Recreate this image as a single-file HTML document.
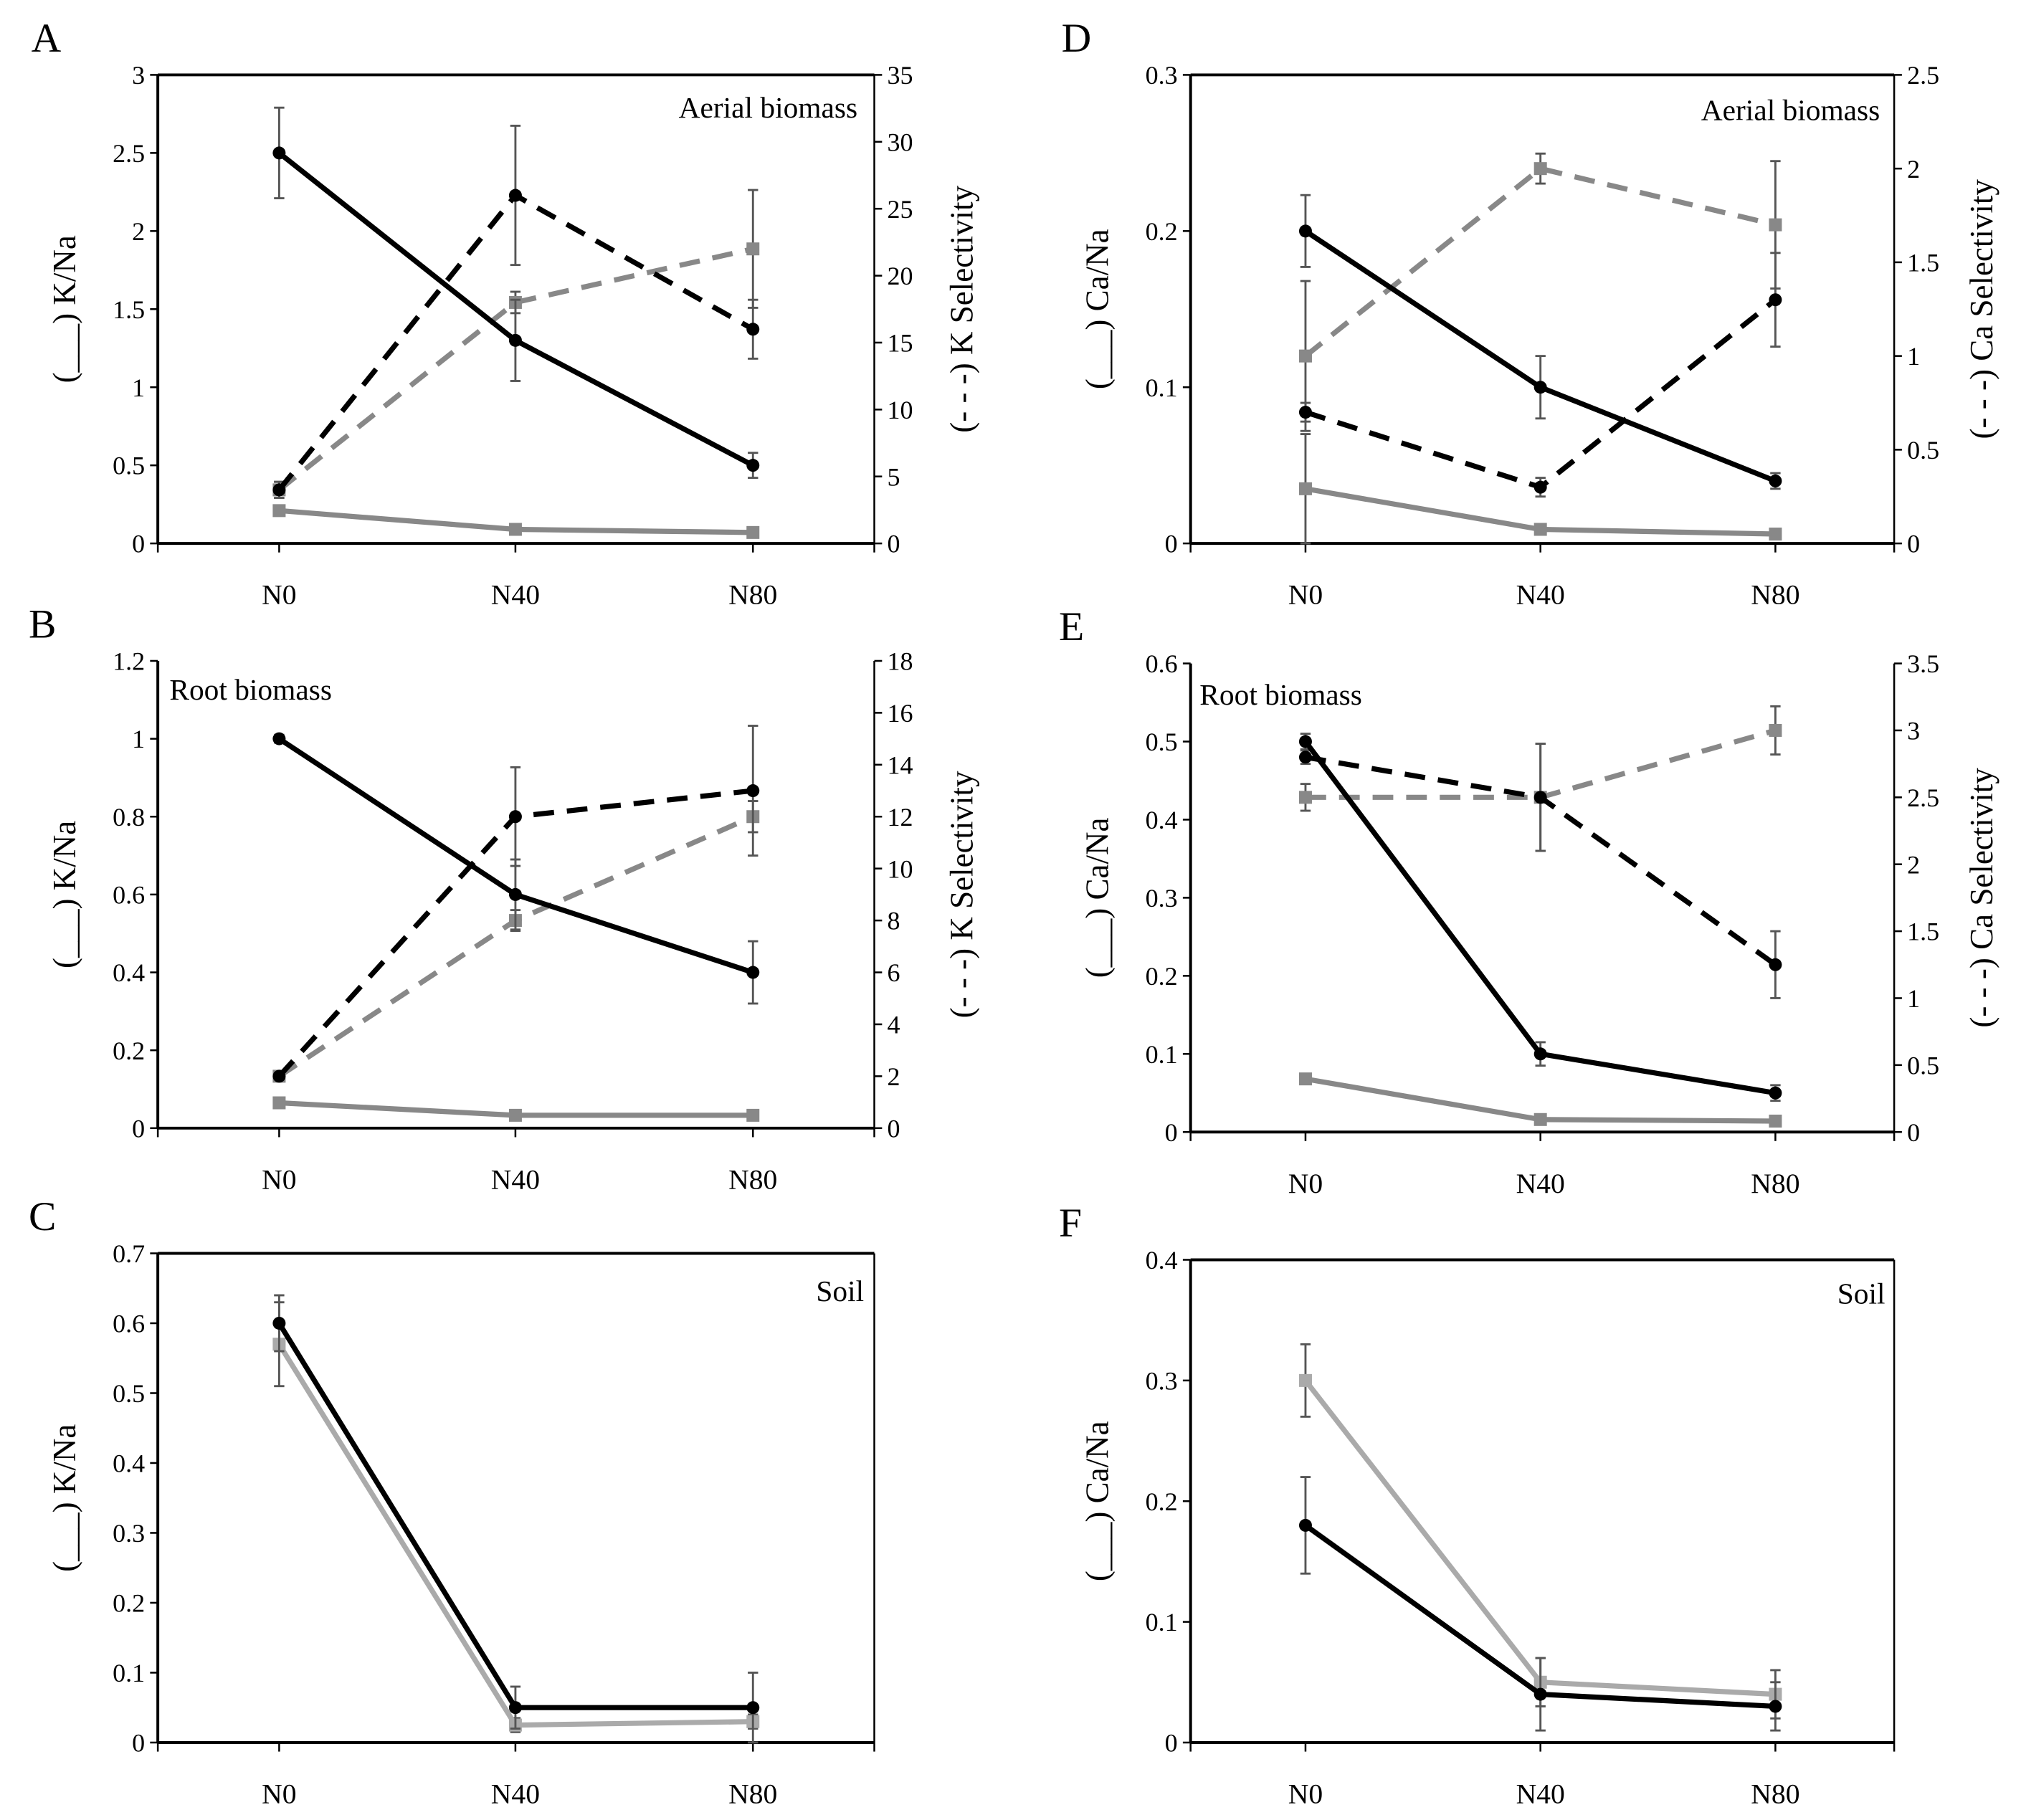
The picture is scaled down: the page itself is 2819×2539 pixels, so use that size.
<!DOCTYPE html>
<html><head><meta charset="utf-8"><style>
html,body{margin:0;padding:0;background:#fff}
svg{display:block}
text{font-family:"Liberation Serif",serif;fill:#000}
</style></head><body>
<svg id="fig" width="2819" height="2539" viewBox="0 0 1565 1410" xmlns="http://www.w3.org/2000/svg"></svg>
<script>
const categories = ["N0","N40","N80"];
// Panel A
const aKNaSel = [2.5,1.3,0.5], aKNaSelErr=[0.29,0.26,0.08];
const aKNaAlt = [0.21,0.09,0.07];
const aKSelSel = [4,26,16], aKSelSelErr=[0.6,5.2,2.2];
const aKSelAlt = [4,18,22], aKSelAltErr=[0.6,0.8,4.4];
// Panel B
const bKNaSel = [1.0,0.6,0.4], bKNaSelErr=[0.01,0.09,0.08];
const bKNaAlt = [0.065,0.033,0.033];
const bKSelSel = [2,12,13], bKSelSelErr=[0.1,1.9,2.5];
const bKSelAlt = [2,8,12], bKSelAltErr=[0.1,0.4,0.6];
// Panel C
const cKNaBlack = [0.6,0.05,0.05], cKNaBlackErr=[0.04,0.03,0.05];
const cKNaGray = [0.57,0.025,0.03], cKNaGrayErr=[0.06,0.01,0.01];
// Panel D
const dCaNaSel = [0.2,0.1,0.04], dCaNaSelErr=[0.023,0.02,0.005];
const dCaNaAlt = [0.035,0.009,0.006], dCaNaAltErr=[0.035,0.002,0.002];
const dCaSelSel = [0.7,0.3,1.3], dCaSelSelErr=[0.05,0.05,0.25];
const dCaSelAlt = [1.0,2.0,1.7], dCaSelAltErr=[0.4,0.08,0.34];
// Panel E
const eCaNaSel = [0.5,0.1,0.05], eCaNaSelErr=[0.01,0.015,0.01];
const eCaNaAlt = [0.068,0.016,0.014];
const eCaSelSel = [2.8,2.5,1.25], eCaSelSelErr=[0.05,0.4,0.25];
const eCaSelAlt = [2.5,2.5,3.0], eCaSelAltErr=[0.1,0.4,0.18];
// Panel F
const fCaNaGray = [0.3,0.05,0.04], fCaNaGrayErr=[0.03,0.02,0.02];
const fCaNaBlack = [0.18,0.04,0.03], fCaNaBlackErr=[0.04,0.03,0.02];

const leftTicksA=["0","0.5","1","1.5","2","2.5","3"], rightTicksA=["0","5","10","15","20","25","30","35"];
const leftTicksB=["0","0.2","0.4","0.6","0.8","1","1.2"], rightTicksB=["0","2","4","6","8","10","12","14","16","18"];
const leftTicksC=["0","0.1","0.2","0.3","0.4","0.5","0.6","0.7"];
const leftTicksD=["0","0.1","0.2","0.3"], rightTicksD=["0","0.5","1","1.5","2","2.5"];
const leftTicksE=["0","0.1","0.2","0.3","0.4","0.5","0.6"], rightTicksE=["0","0.5","1","1.5","2","2.5","3","3.5"];
const leftTicksF=["0","0.1","0.2","0.3","0.4"];

const NS="http://www.w3.org/2000/svg";
const svg=document.getElementById('fig');
function el(tag,attrs,parent,txt){const e=document.createElementNS(NS,tag);for(const k in attrs)e.setAttribute(k,attrs[k]);if(txt!==undefined)e.textContent=txt;(parent||svg).appendChild(e);return e;}

function panel(p){
  const g=el('g',{});
  
  
  const L=p.x0,R=p.x1,T=p.y0,B=p.y1;
  const cx=[p.cx[0],p.cx[1],p.cx[2]];
  const lmax=parseFloat(p.lt[p.lt.length-1]);
  const yl=v=>B-(v/lmax)*(B-T);
  let yr=null;
  if(p.rt){const rmax=parseFloat(p.rt[p.rt.length-1]);yr=v=>B-(v/rmax)*(B-T);}
  const ax={stroke:'#000','stroke-width':2.2,fill:'none'};
  const la=el('line',Object.assign({x1:L,y1:T,x2:L,y2:B},ax),g);
  
  const ba=el('line',Object.assign({x1:L,y1:B,x2:R,y2:B},ax),g);
  
  const ra=el('line',Object.assign({x1:R,y1:T,x2:R,y2:B},ax,{'stroke-width':1.4}),g);
  
  if(p.top){const ta=el('line',Object.assign({x1:L,y1:T,x2:R,y2:T},ax),g);}
  p.lt.forEach((t,i)=>{const y=yl(parseFloat(t));
    el('line',{x1:L-6,y1:y,x2:L,y2:y,stroke:'#000','stroke-width':1.4},g);
    const tx=el('text',{x:L-10,y:y+7,'font-size':20,'text-anchor':'end'},g,t);
    });
  if(p.rt){p.rt.forEach(t=>{const y=yr(parseFloat(t));
    el('line',{x1:R,y1:y,x2:R+6,y2:y,stroke:'#000','stroke-width':1.4},g);
    const tx=el('text',{x:R+10,y:y+7,'font-size':20},g,t);
    });}
  [L,cx[0],cx[1],cx[2],R].forEach(x=>el('line',{x1:x,y1:B,x2:x,y2:B+7,stroke:'#000','stroke-width':1.4},g));
  categories.forEach((c,i)=>{const tx=el('text',{x:cx[i],y:B+47,'font-size':22,'text-anchor':'middle'},g,c);
    });
  const mid=(T+B)/2;
  const yt=el('text',{x:0,y:0,'font-size':25,'text-anchor':'middle',transform:`translate(${L-64},${mid}) rotate(-90)`},g,p.ylab);
  
  if(p.y2lab){const t2=el('text',{x:0,y:0,'font-size':25,'text-anchor':'middle',transform:`translate(${R+76},${mid}) rotate(-90)`},g,p.y2lab);
    }
  const lt=el('text',{x:p.lx,y:T-18,'font-size':32},g,p.letter);
  
  const lab=el('text',{x:p.labx,y:T+p.laby,'font-size':23,'text-anchor':p.laba},g,p.label);
  
  p.series.forEach(s=>{
    const f=s.right?yr:yl;
    if(s.err){s.vals.forEach((v,i)=>{const e=s.err[i];if(!e)return;
      const y1=f(v+e),y2=f(Math.max(0,v-e));
      el('line',{x1:cx[i],y1:y1,x2:cx[i],y2:y2,stroke:'#555','stroke-width':1.6},g);
      el('line',{x1:cx[i]-4,y1:y1,x2:cx[i]+4,y2:y1,stroke:'#555','stroke-width':1.6},g);
      el('line',{x1:cx[i]-4,y1:y2,x2:cx[i]+4,y2:y2,stroke:'#555','stroke-width':1.6},g);});}
    const pts=s.vals.map((v,i)=>cx[i]+','+f(v)).join(' ');
    const pl=el('polyline',{points:pts,fill:'none',stroke:s.color,'stroke-width':4,'stroke-dasharray':s.dash?'16,10':'none'},g);
    
    s.vals.forEach((v,i)=>{let m;
      if(s.marker==='c')m=el('circle',{cx:cx[i],cy:f(v),r:5,fill:s.color},g);
      else m=el('rect',{x:cx[i]-5,y:f(v)-5,width:10,height:10,fill:s.color},g);
      });
  });
}
const lx=[122,677,216,399,583], rx=[922,1467,1011,1193,1375];
panel({letter:'A',x0:lx[0],x1:lx[1],cx:lx.slice(2),y0:58,y1:421,top:true,lt:leftTicksA,rt:rightTicksA,lx:24,
 ylab:'(___) K/Na',y2lab:'(- - -) K Selectivity',label:'Aerial biomass',labx:664,laby:33,laba:'end',
 series:[{name:'k-selectivity-gray',vals:aKSelAlt,err:aKSelAltErr,right:1,dash:1,color:'#888',marker:'s'},
 {name:'k-selectivity-black',vals:aKSelSel,err:aKSelSelErr,right:1,dash:1,color:'#000',marker:'c'},
 {name:'kna-gray',vals:aKNaAlt,color:'#888',marker:'s'},
 {name:'kna-black',vals:aKNaSel,err:aKNaSelErr,color:'#000',marker:'c'}]});
panel({letter:'B',x0:lx[0],x1:lx[1],cx:lx.slice(2),y0:512,y1:874,top:false,lt:leftTicksB,rt:rightTicksB,lx:22,
 ylab:'(___) K/Na',y2lab:'(- - -) K Selectivity',label:'Root biomass',labx:131,laby:30,laba:'start',
 series:[{name:'k-selectivity-gray',vals:bKSelAlt,err:bKSelAltErr,right:1,dash:1,color:'#888',marker:'s'},
 {name:'k-selectivity-black',vals:bKSelSel,err:bKSelSelErr,right:1,dash:1,color:'#000',marker:'c'},
 {name:'kna-gray',vals:bKNaAlt,color:'#888',marker:'s'},
 {name:'kna-black',vals:bKNaSel,err:bKNaSelErr,color:'#000',marker:'c'}]});
panel({letter:'C',x0:lx[0],x1:lx[1],cx:lx.slice(2),y0:971,y1:1350,top:true,lt:leftTicksC,rt:null,lx:22,
 ylab:'(___) K/Na',label:'Soil',labx:669,laby:37,laba:'end',
 series:[{name:'kna-gray',vals:cKNaGray,err:cKNaGrayErr,color:'#aaa',marker:'s'},
 {name:'kna-black',vals:cKNaBlack,err:cKNaBlackErr,color:'#000',marker:'c'}]});
panel({letter:'D',x0:rx[0],x1:rx[1],cx:rx.slice(2),y0:58,y1:421,top:true,lt:leftTicksD,rt:rightTicksD,lx:822,
 ylab:'(___) Ca/Na',y2lab:'(- - -) Ca Selectivity',label:'Aerial biomass',labx:1456,laby:35,laba:'end',
 series:[{name:'ca-selectivity-gray',vals:dCaSelAlt,err:dCaSelAltErr,right:1,dash:1,color:'#888',marker:'s'},
 {name:'ca-selectivity-black',vals:dCaSelSel,err:dCaSelSelErr,right:1,dash:1,color:'#000',marker:'c'},
 {name:'cana-gray',vals:dCaNaAlt,err:dCaNaAltErr,color:'#888',marker:'s'},
 {name:'cana-black',vals:dCaNaSel,err:dCaNaSelErr,color:'#000',marker:'c'}]});
panel({letter:'E',x0:rx[0],x1:rx[1],cx:rx.slice(2),y0:514,y1:877,top:false,lt:leftTicksE,rt:rightTicksE,lx:820,
 ylab:'(___) Ca/Na',y2lab:'(- - -) Ca Selectivity',label:'Root biomass',labx:929,laby:32,laba:'start',
 series:[{name:'ca-selectivity-gray',vals:eCaSelAlt,err:eCaSelAltErr,right:1,dash:1,color:'#888',marker:'s'},
 {name:'ca-selectivity-black',vals:eCaSelSel,err:eCaSelSelErr,right:1,dash:1,color:'#000',marker:'c'},
 {name:'cana-gray',vals:eCaNaAlt,color:'#888',marker:'s'},
 {name:'cana-black',vals:eCaNaSel,err:eCaNaSelErr,color:'#000',marker:'c'}]});
panel({letter:'F',x0:rx[0],x1:rx[1],cx:rx.slice(2),y0:976,y1:1350,top:true,lt:leftTicksF,rt:null,lx:820,
 ylab:'(___) Ca/Na',label:'Soil',labx:1460,laby:34,laba:'end',
 series:[{name:'cana-gray',vals:fCaNaGray,err:fCaNaGrayErr,color:'#aaa',marker:'s'},
 {name:'cana-black',vals:fCaNaBlack,err:fCaNaBlackErr,color:'#000',marker:'c'}]});
</script>
</body></html>
